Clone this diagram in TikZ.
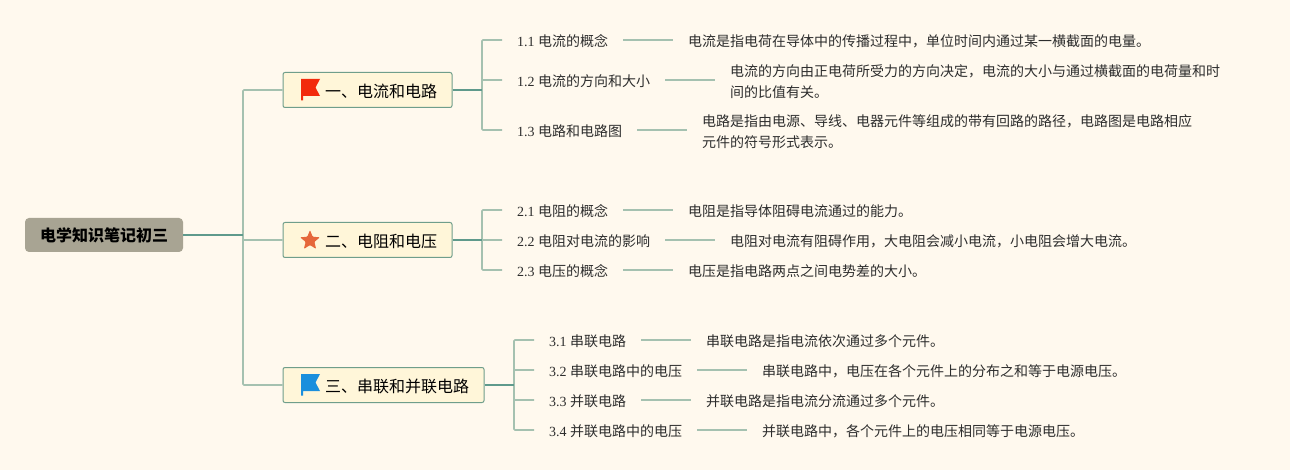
\documentclass[tikz,border=0pt]{standalone}
\usepackage{fontspec}
\setmainfont{Liberation Serif}
\newfontfamily\cjk{Noto Sans CJK SC}
\usetikzlibrary{shapes.geometric}
\newcommand{\fwc}{\char"FF0C\relax}
\definecolor{paper}{RGB}{255,249,238}
\definecolor{rootgray}{RGB}{168,164,147}
\definecolor{topicfill}{RGB}{255,246,217}
\definecolor{topicline}{RGB}{111,158,139}
\definecolor{branchdark}{RGB}{95,154,140}
\definecolor{branchlight}{RGB}{165,193,176}
\definecolor{flagred}{RGB}{242,42,12}
\definecolor{flagblue}{RGB}{26,143,221}
\definecolor{staro}{RGB}{229,103,58}
\definecolor{inktext}{RGB}{45,45,45}
\tikzset{
    rootbox/.style={rectangle, rounded corners=4pt, fill=rootgray, minimum width=158pt, minimum height=34pt, inner sep=0pt, font=\fontsize{16}{20}\selectfont\cjk\bfseries},
    topicbox/.style={rectangle, rounded corners=2pt, fill=topicfill, draw=topicline, line width=1pt, minimum height=35pt, inner sep=0pt, font=\fontsize{16}{20}\selectfont\cjk},
    topiclabel/.style={anchor=west, inner sep=0pt, font=\fontsize{16}{20}\selectfont\cjk},
    subitem/.style={anchor=west, yshift=-1pt, inner xsep=15pt, inner ysep=0pt, text=inktext, font=\fontsize{14}{20}\selectfont\rmfamily},
    descitem/.style={anchor=west, yshift=-1.5pt, inner xsep=15pt, inner ysep=0pt, align=left, text=inktext, font=\fontsize{14}{20.5}\selectfont\cjk},
    thickbranch/.style={draw=branchdark, line width=1.8pt},
    thinbranch/.style={draw=branchlight, line width=1.7pt, rounded corners=1pt},
}
\begin{document}
\begin{tikzpicture}[x=1pt, y=-1pt]
    % Background
    \fill[paper] (0,0) rectangle (1290,470);

    % Root and topics
    \node[rootbox] (root) at (104,235) {电学知识笔记初三};
    \node[topicbox, minimum width=169pt] (topicA) at (367.5,90) {};
    \node[topicbox, minimum width=169pt] (topicB) at (367.5,240) {};
    \node[topicbox, minimum width=201pt] (topicC) at (383.5,385) {};
    \node[topiclabel] (labelA) at (325,91) {一、电流和电路};
    \node[topiclabel] (labelB) at (325,241) {二、电阻和电压};
    \node[topiclabel] (labelC) at (325,386) {三、串联和并联电路};

    % Icons
    \fill[flagred] (301,79) -- (320,79) -- (315.5,87.5) -- (320,96) -- (303,96) -- (303,100.5) -- (301,100.5) -- cycle;
    \node[star, star points=5, star point ratio=2.3, fill=staro, minimum size=21pt, inner sep=0pt, rounded corners=1pt] (iconB) at (310,240.5) {};
    \fill[flagblue] (301,374) -- (320,374) -- (315.5,382.5) -- (320,391) -- (303,391) -- (303,395.5) -- (301,395.5) -- cycle;

    % Hubs
    \coordinate (hub) at (243,235);
    \coordinate (hubA) at (482,90);
    \coordinate (hubB) at (482,240);
    \coordinate (hubC) at (514,385);

    % Section 1
    \node[subitem] (s11) at (502,40) {1.1 {\cjk 电流的概念}};
    \node[subitem] (s12) at (502,80) {1.2 {\cjk 电流的方向和大小}};
    \node[subitem] (s13) at (502,130) {1.3 {\cjk 电路和电路图}};
    \node[descitem] (d11) at (673,40) {电流是指电荷在导体中的传播过程中\fwc 单位时间内通过某一横截面的电量。};
    \node[descitem] (d12) at (715,80) {电流的方向由正电荷所受力的方向决定\fwc 电流的大小与通过横截面的电荷量和时\\间的比值有关。};
    \node[descitem] (d13) at (687,130) {电路是指由电源、导线、电器元件等组成的带有回路的路径\fwc 电路图是电路相应\\元件的符号形式表示。};

    % Section 2
    \node[subitem] (s21) at (502,210) {2.1 {\cjk 电阻的概念}};
    \node[subitem] (s22) at (502,240) {2.2 {\cjk 电阻对电流的影响}};
    \node[subitem] (s23) at (502,270) {2.3 {\cjk 电压的概念}};
    \node[descitem] (d21) at (673,210) {电阻是指导体阻碍电流通过的能力。};
    \node[descitem] (d22) at (715,240) {电阻对电流有阻碍作用\fwc 大电阻会减小电流\fwc 小电阻会增大电流。};
    \node[descitem] (d23) at (673,270) {电压是指电路两点之间电势差的大小。};

    % Section 3
    \node[subitem] (s31) at (534,340) {3.1 {\cjk 串联电路}};
    \node[subitem] (s32) at (534,370) {3.2 {\cjk 串联电路中的电压}};
    \node[subitem] (s33) at (534,400) {3.3 {\cjk 并联电路}};
    \node[subitem] (s34) at (534,430) {3.4 {\cjk 并联电路中的电压}};
    \node[descitem] (d31) at (691,340) {串联电路是指电流依次通过多个元件。};
    \node[descitem] (d32) at (747,370) {串联电路中\fwc 电压在各个元件上的分布之和等于电源电压。};
    \node[descitem] (d33) at (691,400) {并联电路是指电流分流通过多个元件。};
    \node[descitem] (d34) at (747,430) {并联电路中\fwc 各个元件上的电压相同等于电源电压。};

    % Connectors
    \foreach \t in {topicA, topicB, topicC}
        \draw[thinbranch] (hub) |- (\t.west);
    \foreach \s/\h in {s11/hubA, s12/hubA, s13/hubA, s21/hubB, s22/hubB, s23/hubB, s31/hubC, s32/hubC, s33/hubC, s34/hubC}
        \draw[thinbranch] (\h) |- ([yshift=1pt]\s.west);
    \foreach \n in {11, 12, 13, 21, 22, 23, 31, 32, 33, 34}
        \draw[thinbranch] ([yshift=1pt]s\n.east) -- ([yshift=1.5pt]d\n.west);
    \draw[thickbranch] (root.east) -- (hub);
    \draw[thickbranch] (topicA.east) -- (hubA);
    \draw[thickbranch] (topicB.east) -- (hubB);
    \draw[thickbranch] (topicC.east) -- (hubC);
\end{tikzpicture}
\end{document}
